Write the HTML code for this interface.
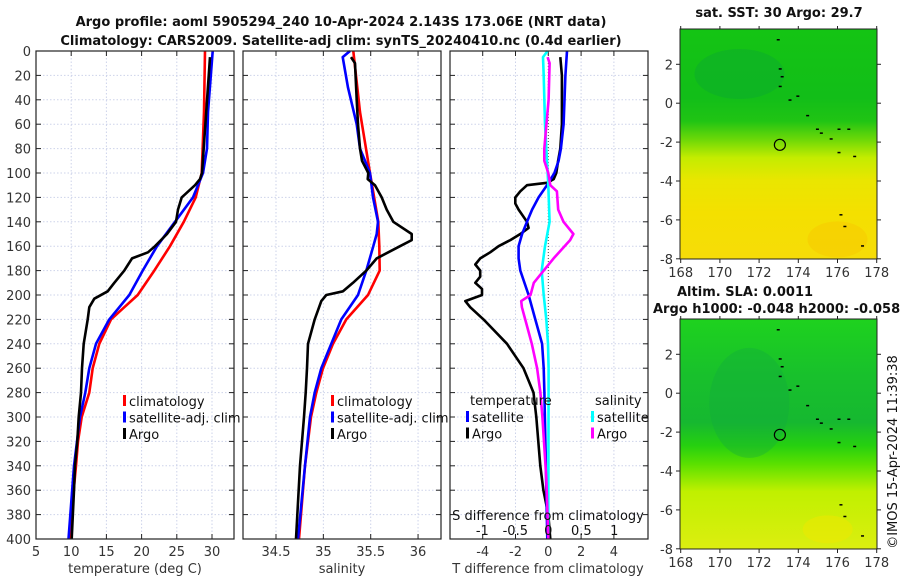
<!DOCTYPE html>
<html><head><meta charset="utf-8"><title>Argo profile</title>
<style>
body{margin:0;background:#fff;}
svg{display:block;font-family:"DejaVu Sans","Liberation Sans",sans-serif;}
</style></head>
<body>
<svg id="chart" width="900" height="580" viewBox="0 0 900 580" xmlns="http://www.w3.org/2000/svg">
<rect width="900" height="580" fill="#fff"/>
<text x="341" y="26" font-size="13" font-weight="bold" text-anchor="middle" fill="#111">Argo profile: aoml 5905294_240 10-Apr-2024 2.143S 173.06E (NRT data)</text>
<text x="341" y="45" font-size="13" font-weight="bold" text-anchor="middle" fill="#111">Climatology: CARS2009. Satellite-adj clim: synTS_20240410.nc (0.4d earlier)</text>
<g id="plots"></g>
<g id="maps"></g>
</svg>
<script>
// ---------- data ----------
const tickDepths = [0,20,40,60,80,100,120,140,160,180,200,220,240,260,280,300,320,340,360,380,400];
const tempTicks = [5,10,15,20,25,30];
const salTicks = [34.5,35,35.5,36];
const salTickLabels = ["34.5","35","35.5","36"];
const dTTicks = [-4,-2,0,2,4];
const dSTicks = [-1,-0.5,0,0.5,1];
const dSTickLabels = ["-1","-0.5","0","0.5","1"];

const climTDepth = [0,50,100,120,140,160,180,200,210,220,240,260,280,300,320,340,360,400];
const climTValue = [29.0,28.86,28.54,27.68,26.0,24.03,21.8,19.45,17.54,15.65,13.99,13.05,12.57,11.49,10.97,10.68,10.36,9.83];
const satTDepth = [0,50,80,100,120,140,160,180,200,220,240,260,280,300,340,400];
const satTValue = [30.1,29.43,29.29,28.72,27.3,24.74,22.19,20.16,18.25,15.41,13.52,12.57,12.0,11.25,10.4,9.62];
const argoTDepth = [5,100,105,110,120,130,140,150,160,165,170,180,190,197,203,210,220,240,260,280,300,320,340,360,400];
const argoTValue = [29.72,28.58,28.3,27.59,25.7,25.17,24.89,23.61,21.9,20.91,18.64,17.54,16.12,15.18,13.28,12.57,12.34,11.78,11.53,11.39,11.07,10.87,10.54,10.4,10.07];

const climSDepth = [0,50,100,140,160,180,200,220,240,260,280,300,340,400];
const climSValue = [35.316,35.387,35.493,35.58,35.591,35.595,35.471,35.242,35.102,34.996,34.926,34.87,34.806,34.743];
const satSDepth = [0,5,30,60,80,100,120,140,150,160,180,200,220,240,260,280,300,340,400];
const satSValue = [35.281,35.204,35.26,35.352,35.387,35.493,35.524,35.577,35.563,35.527,35.454,35.366,35.19,35.084,34.978,34.909,34.859,34.806,34.732];
const argoSDepth = [5,10,40,60,80,90,100,105,110,120,130,140,150,155,160,170,180,190,197,200,205,220,240,260,280,300,340,400];
const argoSValue = [35.292,35.334,35.352,35.366,35.387,35.408,35.475,35.468,35.545,35.616,35.669,35.739,35.933,35.933,35.809,35.563,35.454,35.313,35.207,35.031,34.978,34.909,34.838,34.827,34.814,34.796,34.753,34.711];

const argoDTDepth = [5,20,60,80,90,100,105,108,110,115,120,125,130,140,145,150,155,160,165,170,175,180,185,190,195,200,205,210,220,240,260,280,300,340,360,380,400];
const argoDTValue = [0.73,0.83,0.83,0.73,0.6,0.49,0.33,-0.08,-1.3,-1.71,-2.01,-2.01,-1.81,-1.3,-1.2,-1.71,-2.32,-3.03,-3.54,-4.15,-4.45,-4.15,-4.15,-4.45,-4.04,-4.04,-5.06,-4.76,-3.95,-2.52,-1.51,-0.9,-0.73,-0.49,-0.3,0,0.12];
const satDTDepth = [0,20,60,80,90,100,110,120,130,140,150,160,170,180,200,220,240,260,280,400];
const satDTValue = [1.14,1.04,0.93,0.77,0.63,0.37,-0.08,-0.59,-0.99,-1.3,-1.6,-1.81,-1.81,-1.71,-1.2,-0.79,-0.38,-0.28,-0.24,-0.06];
const satDSDepth = [0,5,20,60,90,110,140,160,180,200,220,240,260,400];
const satDSValue = [-0.01,-0.08,-0.07,-0.05,-0.02,0,0.02,-0.05,-0.1,-0.07,-0.03,-0.005,0.005,0];
const argoDSDepth = [5,10,40,80,90,100,110,115,130,140,150,155,170,180,190,200,205,210,220,240,260,280,300,350,400];
const argoDSValue = [-0.01,0.02,0.005,-0.06,-0.06,0,0.03,0.13,0.15,0.23,0.38,0.33,0.08,-0.07,-0.22,-0.27,-0.41,-0.4,-0.35,-0.25,-0.17,-0.12,-0.09,-0.03,0];

const lonTicks = [168,170,172,174,176,178];
const latTicks = [2,0,-2,-4,-6,-8];

// ---------- layout ----------
const NS="http://www.w3.org/2000/svg";
const Y0=51, Y1=539;
const yD = d => Y0 + (d/400)*(Y1-Y0);
function el(tag, attrs, parent){const e=document.createElementNS(NS,tag);for(const k in attrs)e.setAttribute(k,attrs[k]);parent.appendChild(e);return e;}
const plots=document.getElementById('plots');

function frame(x0,x1,name){
  const g=el('g',{},plots);
  
  
  return g;
}
function hgrid(g,x0,x1){
  tickDepths.forEach((d,i)=>{
    if(i>0&&i<tickDepths.length-1){
      const l=el('line',{x1:x0,x2:x1,y1:yD(d),y2:yD(d),stroke:'#cdd3ea','stroke-dasharray':'1.5,2','stroke-width':1},g);
      
      
    }
    el('line',{x1:x0,x2:x0+5,y1:yD(d),y2:yD(d),stroke:'#222','stroke-width':1},g);
    el('line',{x1:x1-5,x2:x1,y1:yD(d),y2:yD(d),stroke:'#222','stroke-width':1},g);
  });
}
function vtick(g,x,y0,y1,grid){
  if(grid){const l=el('line',{x1:x,x2:x,y1:y0,y2:y1,stroke:'#cdd3ea','stroke-dasharray':'1.5,2','stroke-width':1},g);
    
    }
  el('line',{x1:x,x2:x,y1:y1-5,y2:y1,stroke:'#222'},g);
  el('line',{x1:x,x2:x,y1:y0,y2:y0+5,stroke:'#222'},g);
}
function series(g,xs,ds,xf,color,name,w){
  const pts=xs.map((v,i)=>xf(v).toFixed(1)+','+yD(ds[i]).toFixed(1)).join(' ');
  const p=el('polyline',{points:pts,fill:'none',stroke:color,'stroke-width':w||2.6,'stroke-linejoin':'round'},g);
  
  
}
function box(g,x0,x1){el('rect',{x:x0,y:Y0,width:x1-x0,height:Y1-Y0,fill:'none',stroke:'#222','stroke-width':1.2},g);}
function txt(g,x,y,s,opts,name){
  const t=el('text',Object.assign({x:x,y:y,'font-size':13,fill:'#333'},opts||{}),g);
  t.textContent=s;
  
  
  return t;
}
function legend(g,x,y,items){
  items.forEach((it,i)=>{
    el('rect',{x:x,y:y+i*16.5-11,width:3,height:11,fill:it[1]},g);
    txt(g,x+6,y+i*16.5,it[0],{fill:'#111'},'legend-entry');
  });
}

// Panel 1 temperature
(function(){
  const x0=36,x1=234; const xT=v=>36+(v-5)*7.04;
  const g=frame(x0,x1,'temperature-panel');
  hgrid(g,x0,x1);
  tempTicks.forEach(v=>{vtick(g,xT(v),Y0,Y1,v>5); txt(g,xT(v),556,String(v),{'text-anchor':'middle'},'x-tick-label');});
  tickDepths.forEach(d=>txt(g,31,yD(d)+5,String(d),{'text-anchor':'end'},'y-tick-label'));
  series(g,climTValue,climTDepth,xT,'#ff0000','climatology-temperature-line');
  series(g,satTValue,satTDepth,xT,'#0000ff','satellite-temperature-line');
  series(g,argoTValue,argoTDepth,xT,'#000000','argo-temperature-line');
  box(g,x0,x1);
  txt(g,135,573,'temperature (deg C)',{'text-anchor':'middle'},'x-axis-title');
  legend(g,123,406,[['climatology','#ff0000'],['satellite-adj. clim','#0000ff'],['Argo','#000']]);
})();

// Panel 2 salinity
(function(){
  const x0=243,x1=441; const xS=v=>276+(v-34.5)*94.7;
  const g=frame(x0,x1,'salinity-panel');
  hgrid(g,x0,x1);
  salTicks.forEach((v,i)=>{vtick(g,xS(v),Y0,Y1,true); txt(g,xS(v),556,salTickLabels[i],{'text-anchor':'middle'},'x-tick-label');});
  series(g,climSValue,climSDepth,xS,'#ff0000','climatology-salinity-line');
  series(g,satSValue,satSDepth,xS,'#0000ff','satellite-salinity-line');
  series(g,argoSValue,argoSDepth,xS,'#000000','argo-salinity-line');
  box(g,x0,x1);
  txt(g,342,573,'salinity',{'text-anchor':'middle'},'x-axis-title');
  legend(g,331,406,[['climatology','#ff0000'],['satellite-adj. clim','#0000ff'],['Argo','#000']]);
})();

// Panel 3 differences
(function(){
  const x0=450,x1=648; const xdT=v=>548.3+v*16.4; const xdS=v=>548.3+v*66;
  const g=frame(x0,x1,'difference-panel');
  hgrid(g,x0,x1);
  dTTicks.forEach(v=>{vtick(g,xdT(v),Y0,Y1,v!==0); txt(g,xdT(v),556,String(v),{'text-anchor':'middle'},'t-diff-tick-label');});
  el('line',{x1:xdT(0),x2:xdT(0),y1:Y0,y2:Y1,stroke:'#444','stroke-dasharray':'1,2'},g);
  series(g,argoDTValue,argoDTDepth,xdT,'#000000','argo-temperature-difference-line');
  series(g,satDTValue,satDTDepth,xdT,'#0000ff','satellite-temperature-difference-line');
  series(g,satDSValue,satDSDepth,xdS,'#00ffff','satellite-salinity-difference-line');
  series(g,argoDSValue,argoDSDepth,xdS,'#ff00ff','argo-salinity-difference-line');
  box(g,x0,x1);
  txt(g,548,520,'S difference from climatology',{'text-anchor':'middle','fill':'#111'},'s-diff-axis-title');
  dSTicks.forEach((v,i)=>txt(g,xdS(v),535,dSTickLabels[i],{'text-anchor':'middle','fill':'#111'},'s-diff-tick-label'));
  txt(g,548,573,'T difference from climatology',{'text-anchor':'middle'},'t-diff-axis-title');
  txt(g,470,405,'temperature',{'fill':'#111'},'legend-title-temperature');
  txt(g,595,405,'salinity',{'fill':'#111'},'legend-title-salinity');
  legend(g,466,422,[['satellite','#0000ff'],['Argo','#000']]);
  legend(g,591,422,[['satellite','#00ffff'],['Argo','#ff00ff']]);
})();

// ---------- maps ----------
const maps=document.getElementById('maps');
function mapPanel(top,bottom,lat2y,name,stops,darkBlob){
  const x0=680,x1=877; const lonX=v=>680.7+(v-168)*19.6; const latY=v=>lat2y+(2-v)*19.45;
  const g=el('g',{},maps);
  
  
  const gid=name+'-grad';
  const defs=el('defs',{},g);
  const lg=el('linearGradient',{id:gid,x1:0,y1:0,x2:0,y2:1},defs);
  stops.forEach(s=>el('stop',{offset:s[0],'stop-color':s[1]},lg));
  el('rect',{x:x0,y:top,width:x1-x0,height:bottom-top,fill:'url(#'+gid+')'},g);
  darkBlob.forEach(b=>el('ellipse',{cx:lonX(b[0]),cy:latY(b[1]),rx:b[2],ry:b[3],fill:b[4],opacity:b[5]},g));
  [[172.9,3.3],[173.0,1.8],[173.1,1.4],[173.0,0.9],[173.5,0.2],[173.9,0.4],[174.4,-0.6],[174.9,-1.3],[175.1,-1.5],[175.6,-1.8],[176.0,-1.3],[176.5,-1.3],[176.0,-2.5],[176.8,-2.7],[176.1,-5.7],[176.3,-6.3],[177.2,-7.3]].forEach(p=>
    el('rect',{x:lonX(p[0]),y:latY(p[1]),width:3,height:1.5,fill:'#000'},g));
  const c=el('circle',{cx:lonX(173.06),cy:latY(-2.14),r:5.5,fill:'none',stroke:'#000','stroke-width':1.2},g);
  
  
  el('rect',{x:x0,y:top,width:x1-x0,height:bottom-top,fill:'none',stroke:'#222','stroke-width':1},g);
  lonTicks.forEach(v=>{el('line',{x1:lonX(v),x2:lonX(v),y1:bottom,y2:bottom+4,stroke:'#222'},g);el('line',{x1:lonX(v),x2:lonX(v),y1:top,y2:top-3,stroke:'#222'},g);
    txt(g,lonX(v),bottom+18,String(v),{'text-anchor':'middle'},'lon-tick-label');});
  latTicks.forEach(v=>{el('line',{x1:x0-4,x2:x0,y1:latY(v),y2:latY(v),stroke:'#222'},g);el('line',{x1:x1,x2:x1+4,y1:latY(v),y2:latY(v),stroke:'#222'},g);
    txt(g,x0-7,latY(v)+5,String(v),{'text-anchor':'end'},'lat-tick-label');});
}
mapPanel(29,259,64.3,'sst-map',[[0,'#14c414'],[0.3,'#12be18'],[0.4,'#20c414'],[0.48,'#6cd808'],[0.56,'#c4ec00'],[0.66,'#eae600'],[0.8,'#f4e000'],[1,'#f6dc08']],
  [[171,1.5,45,25,'#0aa830',0.45],[176,-7,30,18,'#f7c800',0.5]]);
mapPanel(319,549,354.3,'sla-map',[[0,'#1ed21e'],[0.25,'#18c02c'],[0.45,'#16b830'],[0.55,'#26d010'],[0.63,'#5ae000'],[0.75,'#c0f000'],[1,'#dcee10']],
  [[171.5,-0.5,40,55,'#10a840',0.35],[175.5,-7,25,14,'#f0e800',0.5]]);
txt(maps,779,17,'sat. SST: 30 Argo: 29.7',{'text-anchor':'middle','font-weight':'bold','fill':'#111'},'sst-map-title');
txt(maps,677,296,'Altim. SLA: 0.0011',{'font-weight':'bold','fill':'#111'},'sla-map-title');
txt(maps,653,313,'Argo h1000: -0.048 h2000: -0.058',{'font-weight':'bold','fill':'#111'},'sla-map-subtitle');
txt(maps,0,0,'©IMOS 15-Apr-2024 11:39:38',{'text-anchor':'middle','fill':'#111','transform':'translate(897,452) rotate(-90)'},'imos-timestamp');
</script>
</body></html>
